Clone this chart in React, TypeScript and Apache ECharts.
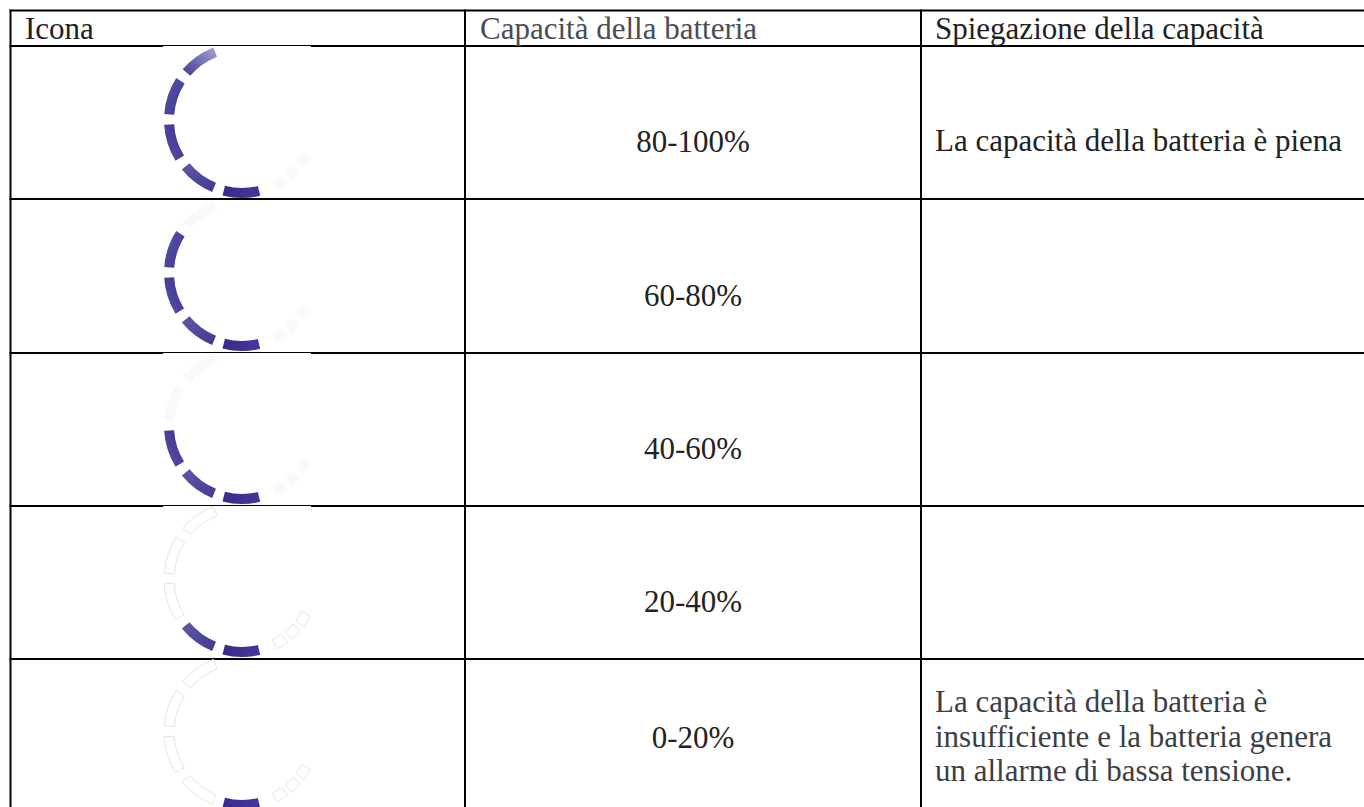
import React, { useEffect, useRef } from "react";
import * as echarts from "echarts";

const headers = ["Icona", "Capacità della batteria", "Spiegazione della capacità"];
const capacities = ["80-100%", "60-80%", "40-60%", "20-40%", "0-20%"];
const explanations = [
  ["La capacità della batteria è piena"],
  [],
  [],
  [],
  ["La capacità della batteria è", "insufficiente e la batteria genera", "un allarme di bassa tensione."],
];
const filledSegments = [5, 4, 3, 2, 1];
const outlinedGhost = [false, false, false, true, true];
// Ring slots in degrees, clockwise from the right end of the bottom segment
const segmentSpan = 28;
const segmentGap = 8;
const tailGap = 140;
const boxSpan = 9;
const boxGap = 4;
const closingGap = 13;
const segmentColors: [string, string, number, number, number, number][] = [
  ["#3a2a8e", "#43389a", 0, 0, 1, 0],
  ["#3f3a8e", "#5f58aa", 1, 1, 0, 0],
  ["#5750a6", "#3b328f", 0, 1, 1, 0],
  ["#3e358f", "#5a55a8", 1, 1, 0, 0],
  ["#3d3a8e", "#aaa6d2", 0, 1, 1, 0],
];

const W = 1364;
const H = 807;
const colX = [9.5, 464, 920];
const lineY = [9.5, 45, 198, 352, 505, 658];
const thinOver = [0, 2, 3];
const ringX = 242;
const ringY0 = 120;
const rowPitch = 153;
const FONT = "Liberation Serif";
const SIZE = 31;

function ringSeries(row: number) {
  const filled = filledSegments[row];
  const out = outlinedGhost[row];
  const ghost = out
    ? { color: "#ffffff", borderColor: "#e6e4ea", borderWidth: 1 }
    : { color: "#f9f9f7", borderWidth: 0 };
  const gap = { value: 0, itemStyle: { color: "rgba(0,0,0,0)", borderWidth: 0 } };
  const data: any[] = [];
  for (let i = 0; i < 5; i++) {
    const [a, b, x, y, x2, y2] = segmentColors[i];
    data.push({
      value: segmentSpan,
      itemStyle:
        i < filled
          ? { color: new echarts.graphic.LinearGradient(x, y, x2, y2, [{ offset: 0, color: a }, { offset: 1, color: b }]), borderWidth: 0 }
          : ghost,
    });
    data.push({ ...gap, value: i < 4 ? segmentGap : tailGap });
  }
  for (let i = 0; i < 3; i++) {
    data.push({ value: boxSpan, itemStyle: ghost });
    data.push({ ...gap, value: i < 2 ? boxGap : closingGap });
  }
  return {
    type: "pie",
    silent: true,
    center: [ringX, ringY0 + row * rowPitch],
    radius: [68, 78],
    startAngle: 283.5,
    clockwise: true,
    label: { show: false },
    labelLine: { show: false },
    emphasis: { disabled: true },
    itemStyle: { borderWidth: 0 },
    data,
    z: 5,
  };
}

export default function App() {
  const ref = useRef<HTMLDivElement>(null);
  useEffect(() => {
    document.body.style.margin = "0";
    const chart = echarts.init(ref.current!, undefined, { renderer: "svg" });
    const g: any[] = [];
    const bar = (x: number, y: number, w: number, h: number, c = "#000") =>
      g.push({ type: "rect", shape: { x, y, width: w, height: h }, style: { fill: c }, silent: true, z: 1 });
    lineY.forEach((y) => bar(9.5, y, W - 9.5, 2));
    colX.forEach((x) => bar(x, 9.5, 2, H - 9.5));
    thinOver.forEach((r) => bar(163, lineY[r + 1] + 1, 148, 2, "#fff"));
    const text = (t: string, x: number, y: number, c: string, align = "left") =>
      g.push({
        type: "text", x, y, silent: true, z: 6,
        style: { text: t, fill: c, font: `${SIZE}px "${FONT}"`, textAlign: align, textVerticalAlign: "middle" },
      });
    text(headers[0], 25, 28.5, "#222222");
    text(headers[1], 480, 28.5, "#4a4c52");
    text(headers[2], 935, 28.5, "#222222");
    const capY = [141.5, 295, 448.5, 601.5, 737.5];
    capacities.forEach((c, i) => text(c, 693, capY[i], "#222222", "center"));
    text(explanations[0][0], 935, 140, "#222222");
    const y4 = [701, 736, 770.5];
    explanations[4].forEach((l, i) => text(l, 935, y4[i], "#3c3e46"));
    chart.setOption({
      animation: false,
      backgroundColor: "#ffffff",
      series: capacities.map((_, i) => ringSeries(i)),
      graphic: { elements: g },
    });
    return () => chart.dispose();
  }, []);
  return <div ref={ref} style={{ position: "absolute", left: 0, top: 0, width: W, height: H }} />;
}
